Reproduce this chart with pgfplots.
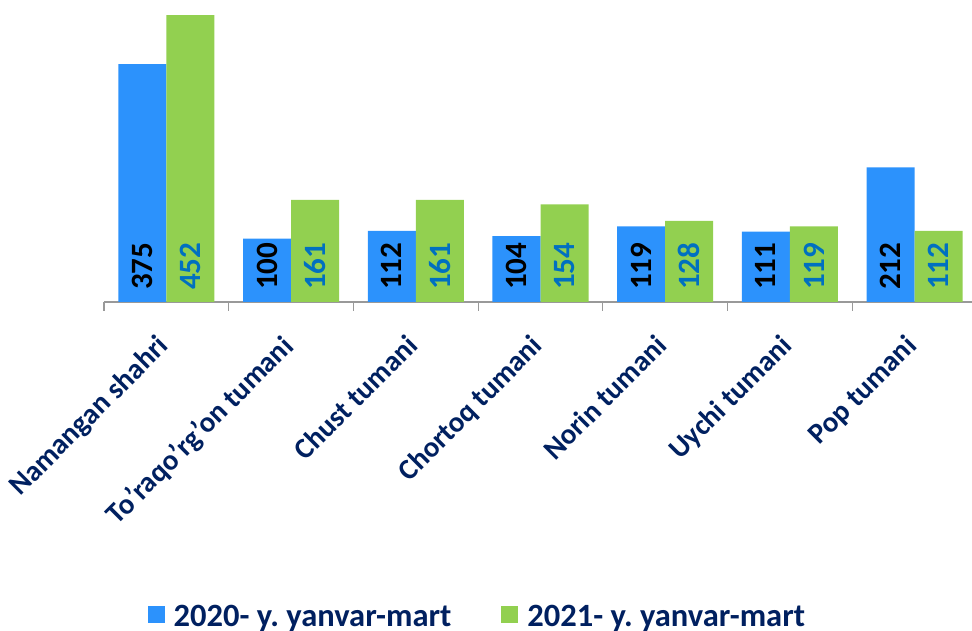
\documentclass[border=0pt]{standalone}
\usepackage{pgfplots}
\pgfplotsset{compat=1.18}
\usepackage{fontspec}
\setmainfont{Carlito}
\frenchspacing
\definecolor{barblue}{HTML}{2C92FC}
\definecolor{bargreen}{HTML}{92D050}
\definecolor{navy}{HTML}{002060}
\definecolor{lblblue}{HTML}{0070C0}
\newcommand{\bigfont}{\fontsize{31}{31}\selectfont\bfseries}
\newcommand{\legfont}{\fontsize{32.5}{32.5}\selectfont\bfseries}
\newcommand{\catfont}{\fontsize{29}{29}\selectfont\bfseries}
\begin{document}
\begin{tikzpicture}[x=1pt,y=1pt]
\useasboundingbox (0,0) rectangle (972,631);
\begin{axis}[
  at={(104pt,329pt)}, anchor=south west,
  scale only axis, width=868pt, height=302pt,
  xmin=-0.5, xmax=6.46, ymin=0, ymax=476,
  axis x line*=bottom, axis y line=none,
  x axis line style={draw=black!40, line width=1.2pt, -},
  xtick={0,1,2,3,4,5,6},
  xticklabels={Namangan shahri, To’raqo’rg’on tumani, Chust tumani, Chortoq tumani, Norin tumani, Uychi tumani, Pop tumani},
  major tick length=0pt,
  minor xtick={-0.5,0.5,1.5,2.5,3.5,4.5,5.5},
  minor tick length=9pt,
  tick align=outside,
  minor x tick style={draw=black!40, line width=1.2pt},
  xticklabel style={font=\catfont, text=navy, inner sep=0pt, xshift=-11pt, yshift=-31pt, rotate=45, anchor=north east},
  legend columns=2,
  legend style={at={(axis description cs:0.429,-1.043)}, anchor=center, draw=none, fill=none,
    font=\legfont, text=navy, nodes={inner sep=0pt},
    /tikz/every odd column/.append style={column sep=9pt},
    /tikz/every even column/.append style={column sep=50pt}},
  legend image code/.code={\fill[#1] (0pt,-6pt) rectangle (17pt,11pt);},
]
\addplot[ybar, bar width=0.385, bar shift=-0.1925, fill=barblue, draw=none]
  coordinates {(0,375)(1,100)(2,112)(3,104)(4,119)(5,111)(6,212)};
\addplot[ybar, bar width=0.385, bar shift=0.1925, fill=bargreen, draw=none]
  coordinates {(0,452)(1,161)(2,161)(3,154)(4,128)(5,119)(6,112)};
\legend{2020- y. yanvar-mart, 2021- y. yanvar-mart}
\addplot[forget plot, draw=none, mark=none, nodes near coords, point meta=explicit symbolic,
  every node near coord/.append style={yshift=12pt, rotate=90, anchor=west, inner sep=0pt, font=\bigfont, text=black}]
  coordinates {(-0.1925,0)[375](0.8075,0)[100](1.8075,0)[112](2.8075,0)[104](3.8075,0)[119](4.8075,0)[111](5.8075,0)[212]};
\addplot[forget plot, draw=none, mark=none, nodes near coords, point meta=explicit symbolic,
  every node near coord/.append style={yshift=12pt, rotate=90, anchor=west, inner sep=0pt, font=\bigfont, text=lblblue}]
  coordinates {(0.1925,0)[452](1.1925,0)[161](2.1925,0)[161](3.1925,0)[154](4.1925,0)[128](5.1925,0)[119](6.1925,0)[112]};
\end{axis}
\end{tikzpicture}
\end{document}
